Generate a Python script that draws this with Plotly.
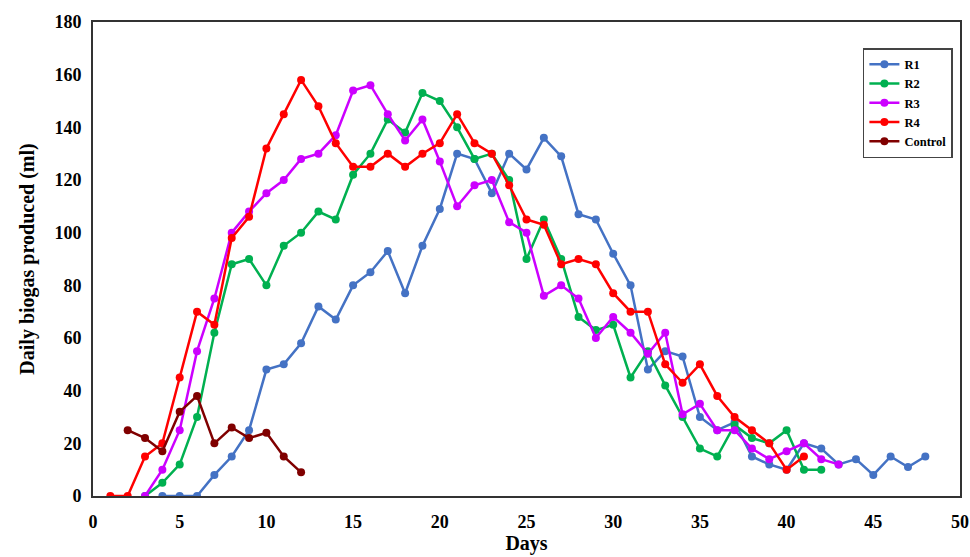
import plotly.graph_objects as go

days_r1 = list(range(4, 49))
r1 = [0, 0, 0, 8, 15, 25, 48, 50, 58, 72, 67, 80, 85, 93, 77, 95, 109, 130, 128, 115,
      130, 124, 136, 129, 107, 105, 92, 80, 48, 55, 53, 30, 25, 28, 15, 12, 10, 20, 18,
      12, 14, 8, 15, 11, 15]

days_r2 = list(range(3, 43))
r2 = [0, 5, 12, 30, 62, 88, 90, 80, 95, 100, 108, 105, 122, 130, 143, 138, 153, 150,
      140, 128, 130, 120, 90, 105, 90, 68, 63, 65, 45, 55, 42, 30, 18, 15, 27, 22, 20,
      25, 10, 10]

days_r3 = list(range(3, 44))
r3 = [0, 10, 25, 55, 75, 100, 108, 115, 120, 128, 130, 137, 154, 156, 145, 135, 143,
      127, 110, 118, 120, 104, 100, 76, 80, 75, 60, 68, 62, 54, 62, 31, 35, 25, 25, 18,
      14, 17, 20, 14, 12]

days_r4 = list(range(1, 42))
r4 = [0, 0, 15, 20, 45, 70, 65, 98, 106, 132, 145, 158, 148, 134, 125, 125, 130, 125,
      130, 134, 145, 134, 130, 118, 105, 103, 88, 90, 88, 77, 70, 70, 50, 43, 50, 38,
      30, 25, 20, 10, 15]

days_ctrl = list(range(2, 13))
ctrl = [25, 22, 17, 32, 38, 20, 26, 22, 24, 15, 9]

series = [
    ("R1", days_r1, r1, "#4472C4"),
    ("R2", days_r2, r2, "#00B050"),
    ("R3", days_r3, r3, "#CC00FF"),
    ("R4", days_r4, r4, "#FF0000"),
    ("Control", days_ctrl, ctrl, "#800000"),
]

x_ticks = [0, 5, 10, 15, 20, 25, 30, 35, 40, 45, 50]
y_ticks = [0, 20, 40, 60, 80, 100, 120, 140, 160, 180]

fig = go.Figure()
for name, xs, ys, col in series:
    fig.add_trace(go.Scatter(
        x=xs, y=ys, name=name, mode="lines+markers",
        line=dict(color=col, width=2.5),
        marker=dict(color=col, size=8),
    ))

font_family = "Liberation Serif, Times New Roman, serif"
fig.update_layout(
    width=970, height=557,
    margin=dict(l=93, r=10, t=22, b=61, autoexpand=False),
    paper_bgcolor="white", plot_bgcolor="white",
    font=dict(family=font_family, color="black"),
    showlegend=True,
    legend=dict(
        x=0.888, y=0.945, xanchor="left", yanchor="top",
        bordercolor="#444", borderwidth=1.5, bgcolor="white",
        font=dict(size=12.5, family=font_family, color="black", weight="bold"),
        tracegroupgap=0, itemwidth=30,
    ),
    xaxis=dict(
        range=[0, 50], tickvals=x_ticks, ticks="", showgrid=False, zeroline=False,
        showline=True, linecolor="#333", linewidth=2, mirror=True,
        tickfont=dict(size=18, family=font_family, weight="bold"),
        ticklabelstandoff=8,
        title=dict(text="<b>Days</b>", font=dict(size=20, family=font_family), standoff=4),
    ),
    yaxis=dict(
        range=[0, 180], tickvals=y_ticks, ticks="", showgrid=False, zeroline=False,
        showline=True, linecolor="#333", linewidth=2, mirror=True,
        tickfont=dict(size=18, family=font_family, weight="bold"),
        ticklabelstandoff=6,
        title=dict(text="<b>Daily biogas produced (ml)</b>", font=dict(size=20, family=font_family), standoff=14),
    ),
)

fig.write_html("out.html")
